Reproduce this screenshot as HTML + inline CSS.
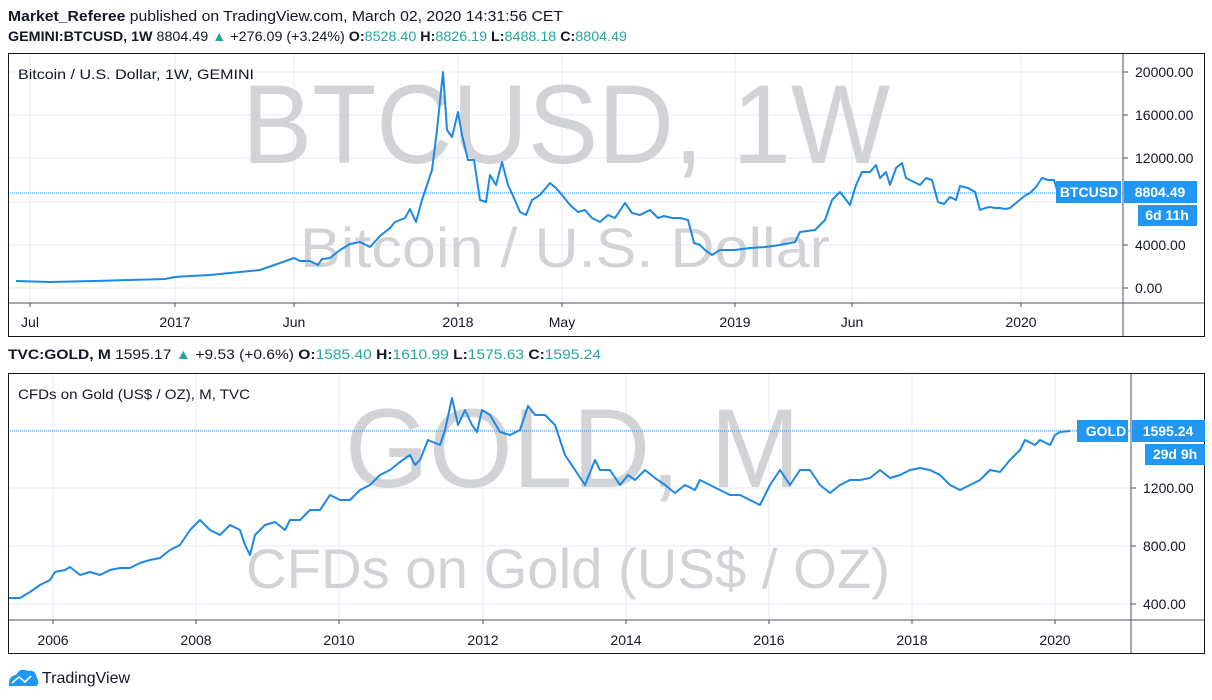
<!DOCTYPE html>
<html><head><meta charset="utf-8"><style>
html,body{margin:0;padding:0;background:#fff;width:1212px;height:700px;overflow:hidden}
svg{display:block}
text{font-family:"Liberation Sans",sans-serif}
</style></head><body>
<svg width="1212" height="700" viewBox="0 0 1212 700" xmlns="http://www.w3.org/2000/svg">
<text x="8" y="21" font-size="15" fill="#131722" textLength="555" lengthAdjust="spacingAndGlyphs"><tspan font-weight="bold">Market_Referee</tspan> published on TradingView.com, March 02, 2020 14:31:56 CET</text>
<text x="8" y="41" font-size="14" fill="#131722" textLength="619" lengthAdjust="spacingAndGlyphs"><tspan font-weight="bold">GEMINI:BTCUSD, 1W</tspan> 8804.49 <tspan fill="#26a69a">▲</tspan> +276.09 (+3.24%) <tspan font-weight="bold">O:</tspan><tspan fill="#26a69a">8528.40</tspan> <tspan font-weight="bold">H:</tspan><tspan fill="#26a69a">8826.19</tspan> <tspan font-weight="bold">L:</tspan><tspan fill="#26a69a">8488.18</tspan> <tspan font-weight="bold">C:</tspan><tspan fill="#26a69a">8804.49</tspan></text>

<!-- TOP PANEL -->
<g stroke="#e6eef5" stroke-width="1">
<line x1="8" x2="1123" y1="72" y2="72"/><line x1="8" x2="1123" y1="115" y2="115"/><line x1="8" x2="1123" y1="158" y2="158"/><line x1="8" x2="1123" y1="202" y2="202"/><line x1="8" x2="1123" y1="245" y2="245"/><line x1="8" x2="1123" y1="288" y2="288"/>
<line x1="30" x2="30" y1="53" y2="303"/><line x1="175" x2="175" y1="53" y2="303"/><line x1="294" x2="294" y1="53" y2="303"/><line x1="458" x2="458" y1="53" y2="303"/><line x1="562" x2="562" y1="53" y2="303"/><line x1="735" x2="735" y1="53" y2="303"/><line x1="852" x2="852" y1="53" y2="303"/><line x1="1021" x2="1021" y1="53" y2="303"/>
</g>
<text x="242" y="163" font-size="112" fill="#d1d3d7" textLength="648" lengthAdjust="spacingAndGlyphs">BTCUSD, 1W</text>
<text x="300" y="267" font-size="56" fill="#d1d3d7" textLength="530" lengthAdjust="spacingAndGlyphs">Bitcoin / U.S. Dollar</text>
<text x="18" y="79" font-size="14" fill="#131722" textLength="236" lengthAdjust="spacingAndGlyphs">Bitcoin / U.S. Dollar, 1W, GEMINI</text>
<line x1="8" x2="1123" y1="193" y2="193" stroke="#2196f3" stroke-dasharray="1,1"/>
<polyline fill="none" stroke="#1e88e5" stroke-width="2" stroke-linejoin="round" points="16,281 50,282 95,281 130,280 165,279 175,277 190,276 210,275 230,273 260,270 280,263 294,258 300,261 310,261 318,265 322,259 330,258 340,250 350,244 360,242 370,247 380,236 390,228 395,222 405,218 410,209 416,222 422,200 432,170 437,130 443,72 447,130 452,137 458,112 462,135 468,160 474,160 480,200 486,202 490,175 496,185 502,162 508,185 514,198 520,212 526,215 532,200 540,195 550,183 556,188 562,195 570,205 578,212 585,210 592,218 600,222 608,215 615,218 625,203 632,213 640,215 650,210 658,218 664,216 672,218 680,218 688,220 694,243 700,245 705,250 712,255 720,250 735,250 750,248 765,247 780,245 795,242 800,232 815,230 825,220 832,200 840,192 850,205 856,185 862,172 870,172 876,165 880,178 886,172 890,185 896,168 902,163 906,178 914,182 920,185 926,178 932,180 938,202 944,204 950,197 956,200 960,186 968,188 975,192 980,210 985,208 990,207 995,208 1000,208 1005,209 1010,208 1016,203 1022,198 1026,195 1030,193 1036,187 1042,178 1048,180 1054,180 1058,193"/>
<line x1="8" x2="1205" y1="303" y2="303" stroke="#50535e"/>
<line x1="1123" x2="1123" y1="53" y2="337" stroke="#50535e"/>
<rect x="8.5" y="53.5" width="1196" height="283" fill="none" stroke="#131722"/>
<g font-size="14" fill="#131722">
<text x="1135" y="77">20000.00</text><text x="1135" y="120">16000.00</text><text x="1135" y="163">12000.00</text><text x="1135" y="250">4000.00</text><text x="1135" y="293">0.00</text>
</g>
<g stroke="#50535e"><line x1="1123" x2="1128" y1="72" y2="72"/><line x1="1123" x2="1128" y1="115" y2="115"/><line x1="1123" x2="1128" y1="158" y2="158"/><line x1="1123" x2="1128" y1="245" y2="245"/><line x1="1123" x2="1128" y1="288" y2="288"/>
<line x1="30" x2="30" y1="303" y2="307"/><line x1="175" x2="175" y1="303" y2="307"/><line x1="294" x2="294" y1="303" y2="307"/><line x1="458" x2="458" y1="303" y2="307"/><line x1="562" x2="562" y1="303" y2="307"/><line x1="735" x2="735" y1="303" y2="307"/><line x1="852" x2="852" y1="303" y2="307"/><line x1="1021" x2="1021" y1="303" y2="307"/></g>
<g font-size="14" fill="#131722" text-anchor="middle">
<text x="30" y="327">Jul</text><text x="175" y="327">2017</text><text x="294" y="327">Jun</text><text x="458" y="327">2018</text><text x="562" y="327">May</text><text x="735" y="327">2019</text><text x="852" y="327">Jun</text><text x="1021" y="327">2020</text>
</g>
<rect x="1056" y="181" width="65" height="22" fill="#2196f3"/>
<text x="1089" y="197" font-size="14" font-weight="bold" fill="#fff" text-anchor="middle">BTCUSD</text>
<rect x="1124" y="181" width="73" height="22" fill="#2196f3"/>
<text x="1160" y="197" font-size="14" font-weight="bold" fill="#fff" text-anchor="middle">8804.49</text>
<rect x="1138" y="205" width="59" height="21" fill="#2196f3"/>
<text x="1167" y="220" font-size="14" font-weight="bold" fill="#fff" text-anchor="middle">6d 11h</text>

<text x="8" y="359" font-size="14" fill="#131722" textLength="593" lengthAdjust="spacingAndGlyphs"><tspan font-weight="bold">TVC:GOLD, M</tspan> 1595.17 <tspan fill="#26a69a">▲</tspan> +9.53 (+0.6%) <tspan font-weight="bold">O:</tspan><tspan fill="#26a69a">1585.40</tspan> <tspan font-weight="bold">H:</tspan><tspan fill="#26a69a">1610.99</tspan> <tspan font-weight="bold">L:</tspan><tspan fill="#26a69a">1575.63</tspan> <tspan font-weight="bold">C:</tspan><tspan fill="#26a69a">1595.24</tspan></text>

<!-- BOTTOM PANEL -->
<g stroke="#e6eef5" stroke-width="1">
<line x1="8" x2="1131" y1="430" y2="430"/><line x1="8" x2="1131" y1="488" y2="488"/><line x1="8" x2="1131" y1="546" y2="546"/><line x1="8" x2="1131" y1="604" y2="604"/>
<line x1="53" x2="53" y1="373" y2="620"/><line x1="196" x2="196" y1="373" y2="620"/><line x1="339" x2="339" y1="373" y2="620"/><line x1="483" x2="483" y1="373" y2="620"/><line x1="626" x2="626" y1="373" y2="620"/><line x1="769" x2="769" y1="373" y2="620"/><line x1="912" x2="912" y1="373" y2="620"/><line x1="1055" x2="1055" y1="373" y2="620"/>
</g>
<text x="345" y="487" font-size="112" fill="#d1d3d7" textLength="455" lengthAdjust="spacingAndGlyphs">GOLD, M</text>
<text x="246" y="588" font-size="56" fill="#d1d3d7" textLength="644" lengthAdjust="spacingAndGlyphs">CFDs on Gold (US$ / OZ)</text>
<text x="18" y="399" font-size="14" fill="#131722" textLength="232" lengthAdjust="spacingAndGlyphs">CFDs on Gold (US$ / OZ), M, TVC</text>
<line x1="8" x2="1131" y1="431" y2="431" stroke="#2196f3" stroke-dasharray="1,1"/>
<polyline fill="none" stroke="#1e88e5" stroke-width="2" stroke-linejoin="round" points="8,598 20,598 30,592 40,585 50,580 55,572 65,570 70,567 80,575 90,572 100,575 110,570 120,568 130,568 140,563 150,560 160,558 170,550 180,545 190,530 200,520 210,530 220,535 230,525 240,530 245,545 250,555 255,535 265,525 275,522 285,530 290,520 300,520 310,510 320,510 330,495 340,500 350,500 360,490 370,485 380,475 390,470 400,462 410,455 415,465 420,460 428,440 440,445 445,430 452,398 458,425 465,410 472,425 477,432 482,410 490,415 500,432 510,435 520,430 528,406 535,415 545,415 555,425 565,455 575,470 585,485 595,460 600,470 610,470 620,485 628,475 635,480 645,470 655,478 665,485 675,493 685,485 695,490 700,480 710,485 720,490 730,495 740,495 750,500 760,505 770,485 780,470 790,485 800,470 810,470 820,485 830,493 840,485 850,480 860,480 870,478 880,470 890,478 900,475 910,470 920,468 930,470 940,475 950,485 960,490 970,485 980,480 990,470 1000,472 1010,460 1020,450 1025,440 1035,445 1040,440 1050,445 1055,435 1060,432 1070,431"/>
<line x1="8" x2="1205" y1="620" y2="620" stroke="#50535e"/>
<line x1="1131" x2="1131" y1="373" y2="654" stroke="#50535e"/>
<rect x="8.5" y="373.5" width="1196" height="280" fill="none" stroke="#131722"/>
<g font-size="14" fill="#131722">
<text x="1143" y="493">1200.00</text><text x="1143" y="551">800.00</text><text x="1143" y="609">400.00</text>
</g>
<g stroke="#50535e"><line x1="1131" x2="1136" y1="488" y2="488"/><line x1="1131" x2="1136" y1="546" y2="546"/><line x1="1131" x2="1136" y1="604" y2="604"/>
<line x1="53" x2="53" y1="620" y2="624"/><line x1="196" x2="196" y1="620" y2="624"/><line x1="339" x2="339" y1="620" y2="624"/><line x1="483" x2="483" y1="620" y2="624"/><line x1="626" x2="626" y1="620" y2="624"/><line x1="769" x2="769" y1="620" y2="624"/><line x1="912" x2="912" y1="620" y2="624"/><line x1="1055" x2="1055" y1="620" y2="624"/></g>
<g font-size="14" fill="#131722" text-anchor="middle">
<text x="53" y="645">2006</text><text x="196" y="645">2008</text><text x="339" y="645">2010</text><text x="483" y="645">2012</text><text x="626" y="645">2014</text><text x="769" y="645">2016</text><text x="912" y="645">2018</text><text x="1055" y="645">2020</text>
</g>
<rect x="1077" y="420" width="51" height="22" fill="#2196f3"/>
<text x="1106" y="436" font-size="14" font-weight="bold" fill="#fff" text-anchor="middle">GOLD</text>
<rect x="1132" y="420" width="73" height="22" fill="#2196f3"/>
<text x="1168" y="436" font-size="14" font-weight="bold" fill="#fff" text-anchor="middle">1595.24</text>
<rect x="1145" y="444" width="60" height="21" fill="#2196f3"/>
<text x="1175" y="459" font-size="14" font-weight="bold" fill="#fff" text-anchor="middle">29d 9h</text>

<!-- footer logo -->
<path d="M9,686 Q8,676 16,675 Q20,667 28,671 Q35,669 37,678 Q40,684 36,686 Z" fill="#2196f3"/>
<polyline points="12,683 19,677 25,682 31,676" fill="none" stroke="#fff" stroke-width="1.6"/>
<text x="42" y="683" font-size="16" fill="#131722">TradingView</text>
</svg>
</body></html>
